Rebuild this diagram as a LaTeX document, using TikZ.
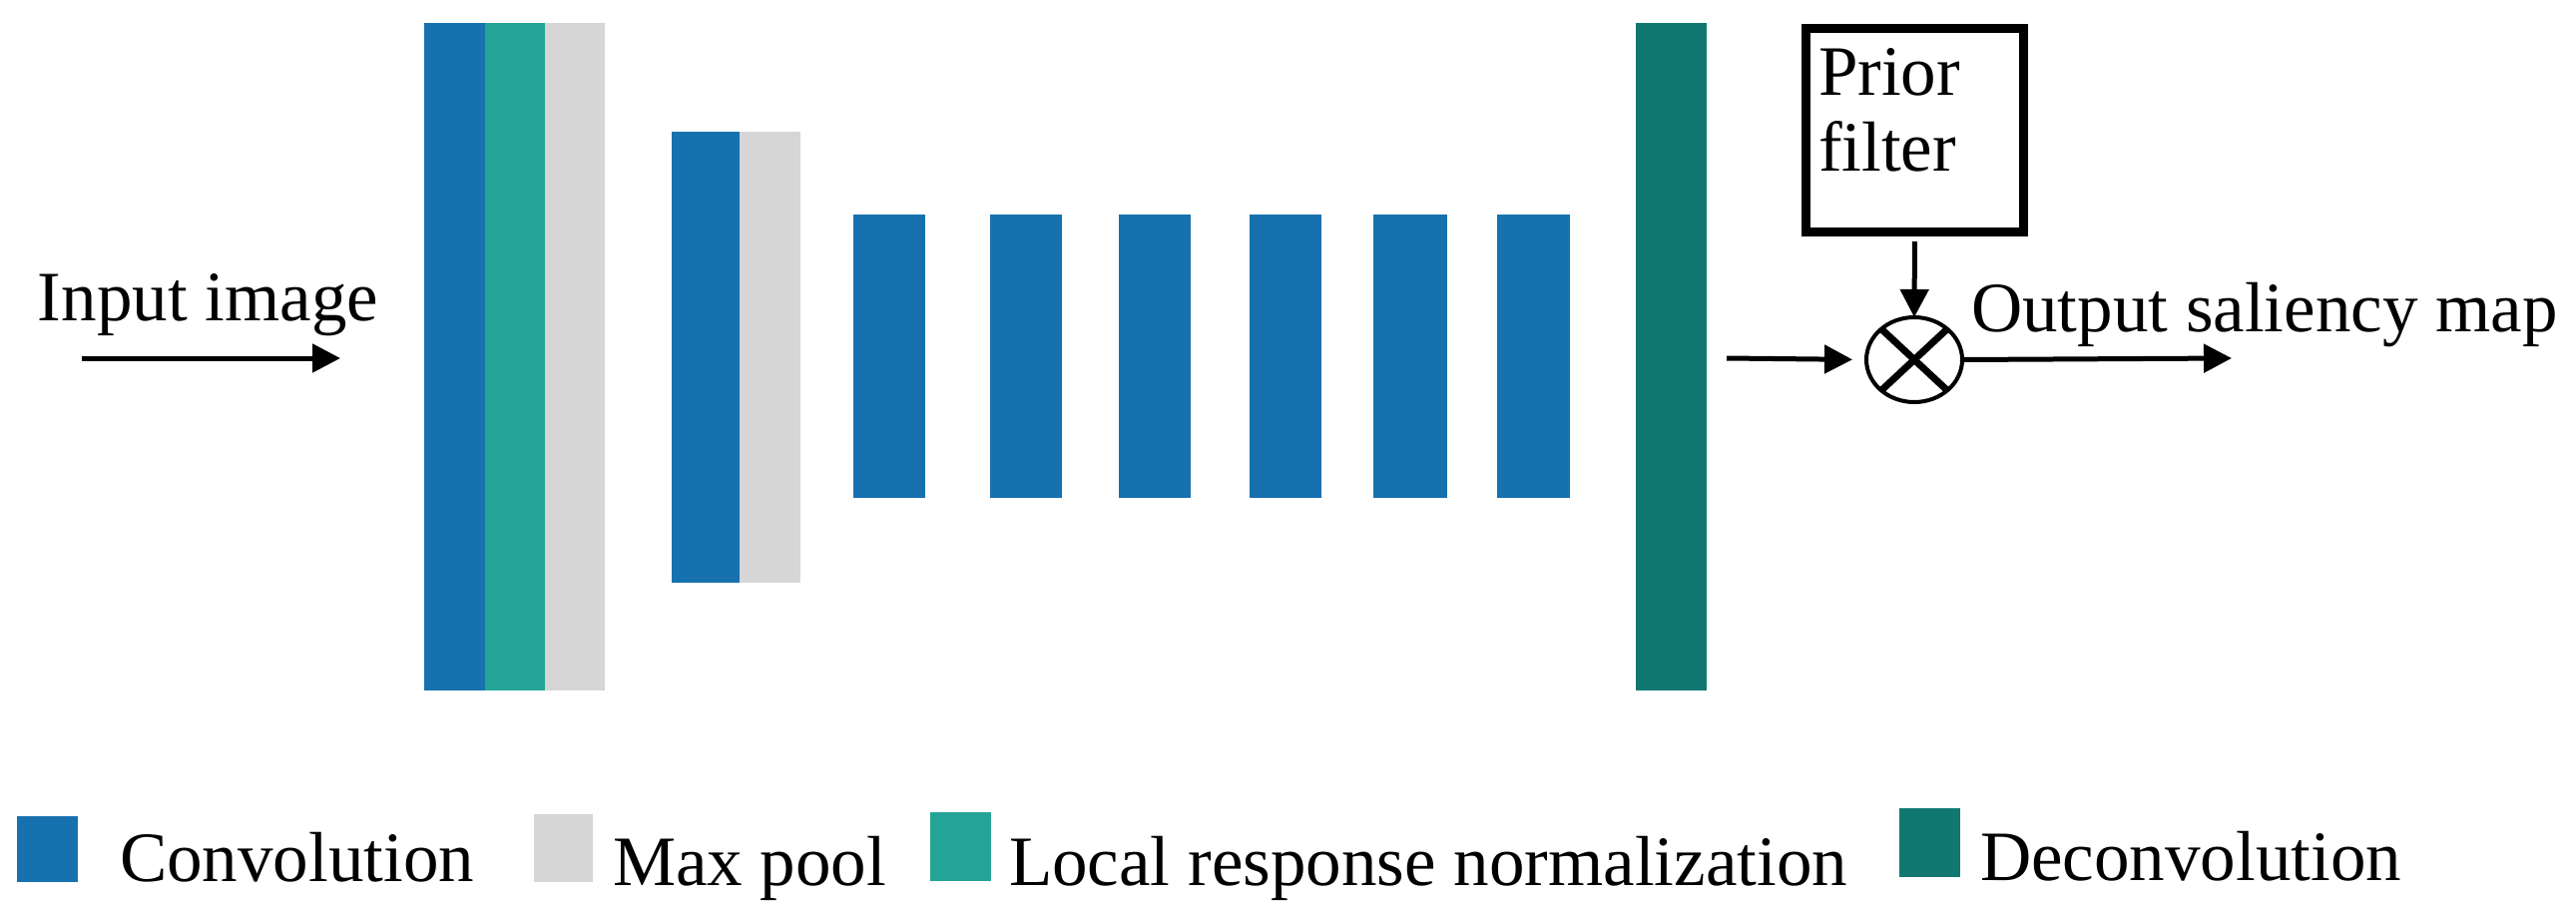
\documentclass[tikz,border=0pt]{standalone}
\usepackage{fontspec}
\setmainfont{Liberation Serif}
\usetikzlibrary{arrows.meta,shapes.geometric}
\definecolor{convblue}{HTML}{1771AF}
\definecolor{lrnteal}{HTML}{24A497}
\definecolor{poolgray}{HTML}{D6D6D6}
\definecolor{deconvteal}{HTML}{117871}
\tikzset{
  layer/.style={draw=none, inner sep=0pt, outer sep=0pt, anchor=north west, minimum width=#1},
  conv/.style={layer=#1, fill=convblue},
  lrn/.style={layer=#1, fill=lrnteal},
  pool/.style={layer=#1, fill=poolgray},
  deconv/.style={layer=#1, fill=deconvteal},
  lbl/.style={inner sep=0pt, outer sep=0pt, anchor=base west, font=\fontsize{35.5}{38}\selectfont},
  flow/.style={line width=2.5pt, -{Triangle[length=14pt,width=14pt]}},
  legbox/.style={draw=none, inner sep=0pt, outer sep=0pt, anchor=north west, minimum width=30.5pt}
}
\begin{document}
\begin{tikzpicture}[x=0.5pt,y=-0.5pt]
\useasboundingbox (0,0) rectangle (2581,905);
% first block
\node[conv=30.5pt, minimum height=334.5pt] (c1) at (425,23) {};
\node[lrn=30pt, minimum height=334.5pt] (n1) at (486,23) {};
\node[pool=30pt, minimum height=334.5pt] (p1) at (546,23) {};
% second block
\node[conv=34pt, minimum height=226pt] (c2) at (673,132) {};
\node[pool=30.5pt, minimum height=226pt] (p2) at (741,132) {};
% conv bars
\node[conv=36pt, minimum height=142pt] (c3) at (855,215) {};
\node[conv=36pt, minimum height=142pt] (c4) at (992,215) {};
\node[conv=36pt, minimum height=142pt] (c5) at (1121,215) {};
\node[conv=36pt, minimum height=142pt] (c6) at (1252,215) {};
\node[conv=37pt, minimum height=142pt] (c7) at (1376,215) {};
\node[conv=36.5pt, minimum height=142pt] (c8) at (1500,215) {};
% deconvolution
\node[deconv=35.5pt, minimum height=334.5pt] (dc) at (1639,23) {};
% input
\node[lbl] (inlbl) at (38,321) {Input image};
\coordinate (inA) at (82,359);
\coordinate (inB) at (341,359);
\draw[flow] (inA) -- (inB);
% prior filter
\node[draw, line width=4.5pt, inner sep=0pt, outer sep=0pt, minimum width=109pt, minimum height=102pt] (prior) at (1918.5,130.5) {};
\node[lbl] (pr1) at (1822,95) {Prior};
\node[lbl] (pr2) at (1822,171) {filter};
% multiplier
\node[draw, ellipse, line width=2pt, minimum width=48pt, minimum height=42.5pt, inner sep=0pt, outer sep=0pt] (mul) at (1918,360.5) {};
\draw[line width=3.5pt] (mul.137) -- (mul.-43);
\draw[line width=3.5pt] (mul.43) -- (mul.-137);
\coordinate (dcA) at (1730,359);
\draw[flow, shorten >=7pt] (dcA) -- (mul.west);
\draw[flow, shorten <=4.75pt] (prior.south) -- (mul.north);
\coordinate (outB) at (2236,359);
\draw[flow] (mul.east) -- (outB);
\node[lbl] (outlbl) at (1975,332) {Output saliency map};
% legend
\node[legbox, fill=convblue, minimum height=33pt] (lg1) at (17,818) {};
\node[lbl] (lt1) at (120,883) {Convolution};
\node[legbox, fill=poolgray, minimum height=34pt, minimum width=29.5pt] (lg2) at (535,816) {};
\node[lbl] (lt2) at (614,887) {Max pool};
\node[legbox, fill=lrnteal, minimum height=34.5pt] (lg3) at (932,814) {};
\node[lbl] (lt3) at (1011,887) {Local response normalization};
\node[legbox, fill=deconvteal, minimum height=34.5pt] (lg4) at (1903,810) {};
\node[lbl] (lt4) at (1984,882) {Deconvolution};
\end{tikzpicture}
\end{document}
